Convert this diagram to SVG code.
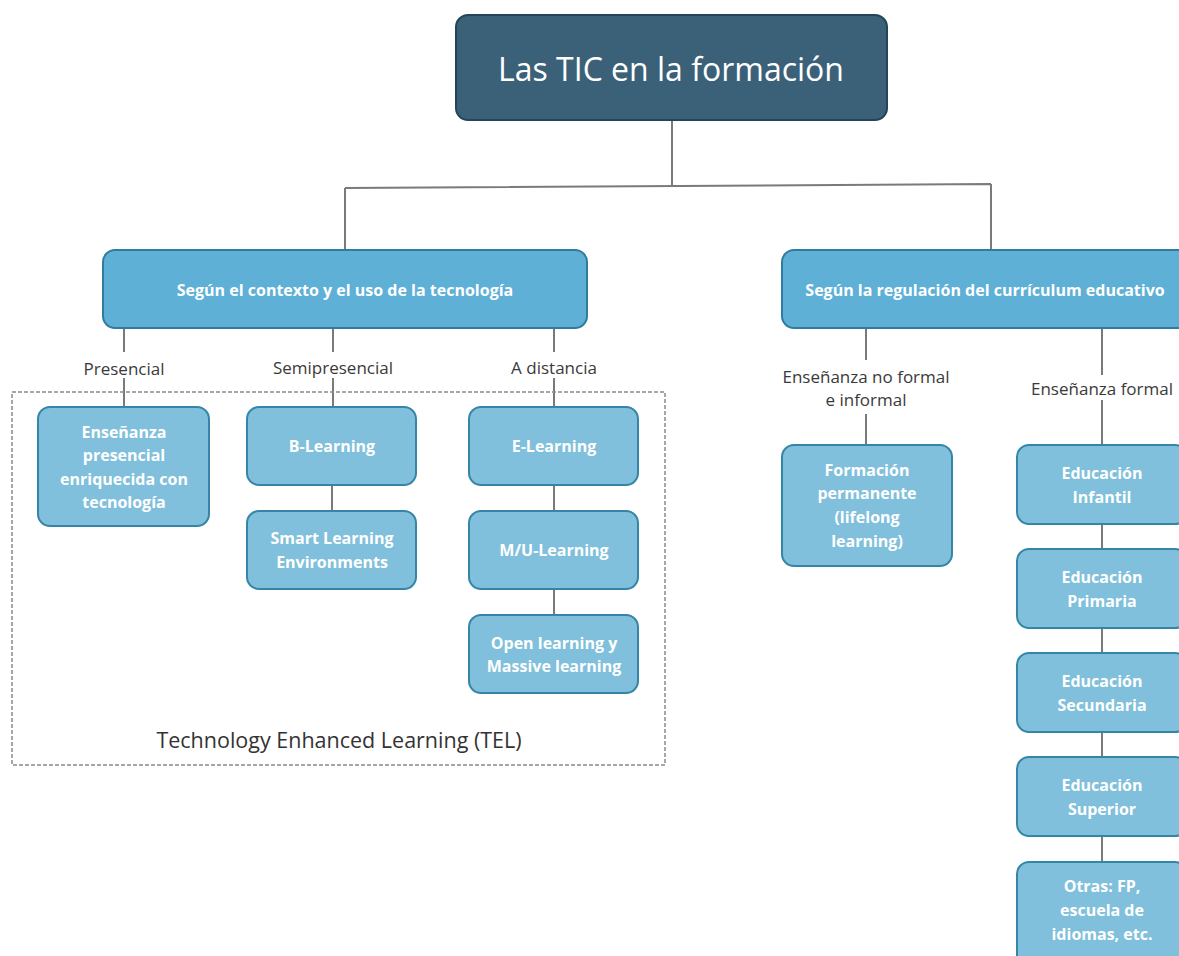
<svg xmlns="http://www.w3.org/2000/svg" width="1179" height="956" viewBox="0 0 1179 956">
<style>
.root{fill:#3b6178;stroke:#234558;stroke-width:2}
.l1{fill:#5eb0d6;stroke:#2f7c9e;stroke-width:2}
.l2{fill:#80c0dc;stroke:#3585a7;stroke-width:2}
.ln{stroke:#7a7a7a;stroke-width:2;fill:none}
.bt{font-family:"Open Sans","Noto Sans",sans-serif;font-weight:700;fill:#ffffff;text-anchor:middle;font-size:16px}
.lb{font-family:"Open Sans","Noto Sans",sans-serif;fill:#3a3a3a;text-anchor:middle;font-size:17px}
</style>
<rect width="1179" height="956" fill="#ffffff"/>
<g id="connectors">
<path class="ln" d="M672 120V186M345 188L991 184M345 188V250M991 184V250"/>
<path class="ln" d="M124 328V352M124 378V407M333 328V352M333 378V407M554 328V352M554 378V407"/>
<path class="ln" d="M332 485V511M554 485V511M554 589V615"/>
<path class="ln" d="M866 328V360M866 414V445M1102 328V375M1102 400V445M1102 524V549M1102 628V653M1102 732V757M1102 836V862"/>
</g>
<g id="tel">
<rect x="12" y="392" width="653" height="373" fill="none" stroke="#8a8a8a" stroke-width="1.5" stroke-dasharray="4,2"/>
<text x="339" y="748" font-family="Open Sans,Noto Sans,sans-serif" font-size="21.5" fill="#333333" text-anchor="middle">Technology Enhanced Learning (TEL)</text>
</g>
<g id="root">
<rect class="root" x="456" y="15" width="431" height="105" rx="12"/>
<text x="671" y="81" font-family="Open Sans,Noto Sans,sans-serif" font-size="32" fill="#ffffff" text-anchor="middle">Las TIC en la formación</text>
</g>
<g id="contexto">
<rect class="l1" x="103" y="250" width="484" height="78" rx="12"/>
<text class="bt" x="345" y="296">Según el contexto y el uso de la tecnología</text>
</g>
<g id="regulacion">
<rect class="l1" x="782" y="250" width="410" height="78" rx="12"/>
<text class="bt" x="985" y="296">Según la regulación del currículum educativo</text>
</g>
<g id="lbl-presencial"><text class="lb" x="124" y="375">Presencial</text></g>
<g id="lbl-semi"><text class="lb" x="333" y="374">Semipresencial</text></g>
<g id="lbl-distancia"><text class="lb" x="554" y="374">A distancia</text></g>
<g id="lbl-noformal"><text class="lb" x="866" y="383">Enseñanza no formal</text><text class="lb" x="866" y="406">e informal</text></g>
<g id="lbl-formal"><text class="lb" x="1102" y="395">Enseñanza formal</text></g>
<g id="presencial">
<rect class="l2" x="38" y="407" width="171" height="119" rx="12"/>
<text class="bt" x="124" y="438">Enseñanza</text>
<text class="bt" x="124" y="461">presencial</text>
<text class="bt" x="124" y="485">enriquecida con</text>
<text class="bt" x="124" y="508">tecnología</text>
</g>
<g id="blearning">
<rect class="l2" x="247" y="407" width="169" height="78" rx="12"/>
<text class="bt" x="332" y="452">B-Learning</text>
</g>
<g id="smart">
<rect class="l2" x="247" y="511" width="169" height="78" rx="12"/>
<text class="bt" x="332" y="544">Smart Learning</text>
<text class="bt" x="332" y="568">Environments</text>
</g>
<g id="elearning">
<rect class="l2" x="469" y="407" width="169" height="78" rx="12"/>
<text class="bt" x="554" y="452">E-Learning</text>
</g>
<g id="mulearning">
<rect class="l2" x="469" y="511" width="169" height="78" rx="12"/>
<text class="bt" x="554" y="556">M/U-Learning</text>
</g>
<g id="open">
<rect class="l2" x="469" y="615" width="169" height="78" rx="12"/>
<text class="bt" x="554" y="649">Open learning y</text>
<text class="bt" x="554" y="672">Massive learning</text>
</g>
<g id="permanente">
<rect class="l2" x="782" y="445" width="170" height="121" rx="12"/>
<text class="bt" x="867" y="476">Formación</text>
<text class="bt" x="867" y="499">permanente</text>
<text class="bt" x="867" y="523">(lifelong</text>
<text class="bt" x="867" y="547">learning)</text>
</g>
<g id="infantil">
<rect class="l2" x="1017" y="445" width="170" height="79" rx="12"/>
<text class="bt" x="1102" y="479">Educación</text>
<text class="bt" x="1102" y="503">Infantil</text>
</g>
<g id="primaria">
<rect class="l2" x="1017" y="549" width="170" height="79" rx="12"/>
<text class="bt" x="1102" y="583">Educación</text>
<text class="bt" x="1102" y="607">Primaria</text>
</g>
<g id="secundaria">
<rect class="l2" x="1017" y="653" width="170" height="79" rx="12"/>
<text class="bt" x="1102" y="687">Educación</text>
<text class="bt" x="1102" y="711">Secundaria</text>
</g>
<g id="superior">
<rect class="l2" x="1017" y="757" width="170" height="79" rx="12"/>
<text class="bt" x="1102" y="791">Educación</text>
<text class="bt" x="1102" y="815">Superior</text>
</g>
<g id="otras">
<rect class="l2" x="1017" y="862" width="170" height="110" rx="12"/>
<text class="bt" x="1102" y="892">Otras: FP,</text>
<text class="bt" x="1102" y="916">escuela de</text>
<text class="bt" x="1102" y="940">idiomas, etc.</text>
</g>
</svg>
